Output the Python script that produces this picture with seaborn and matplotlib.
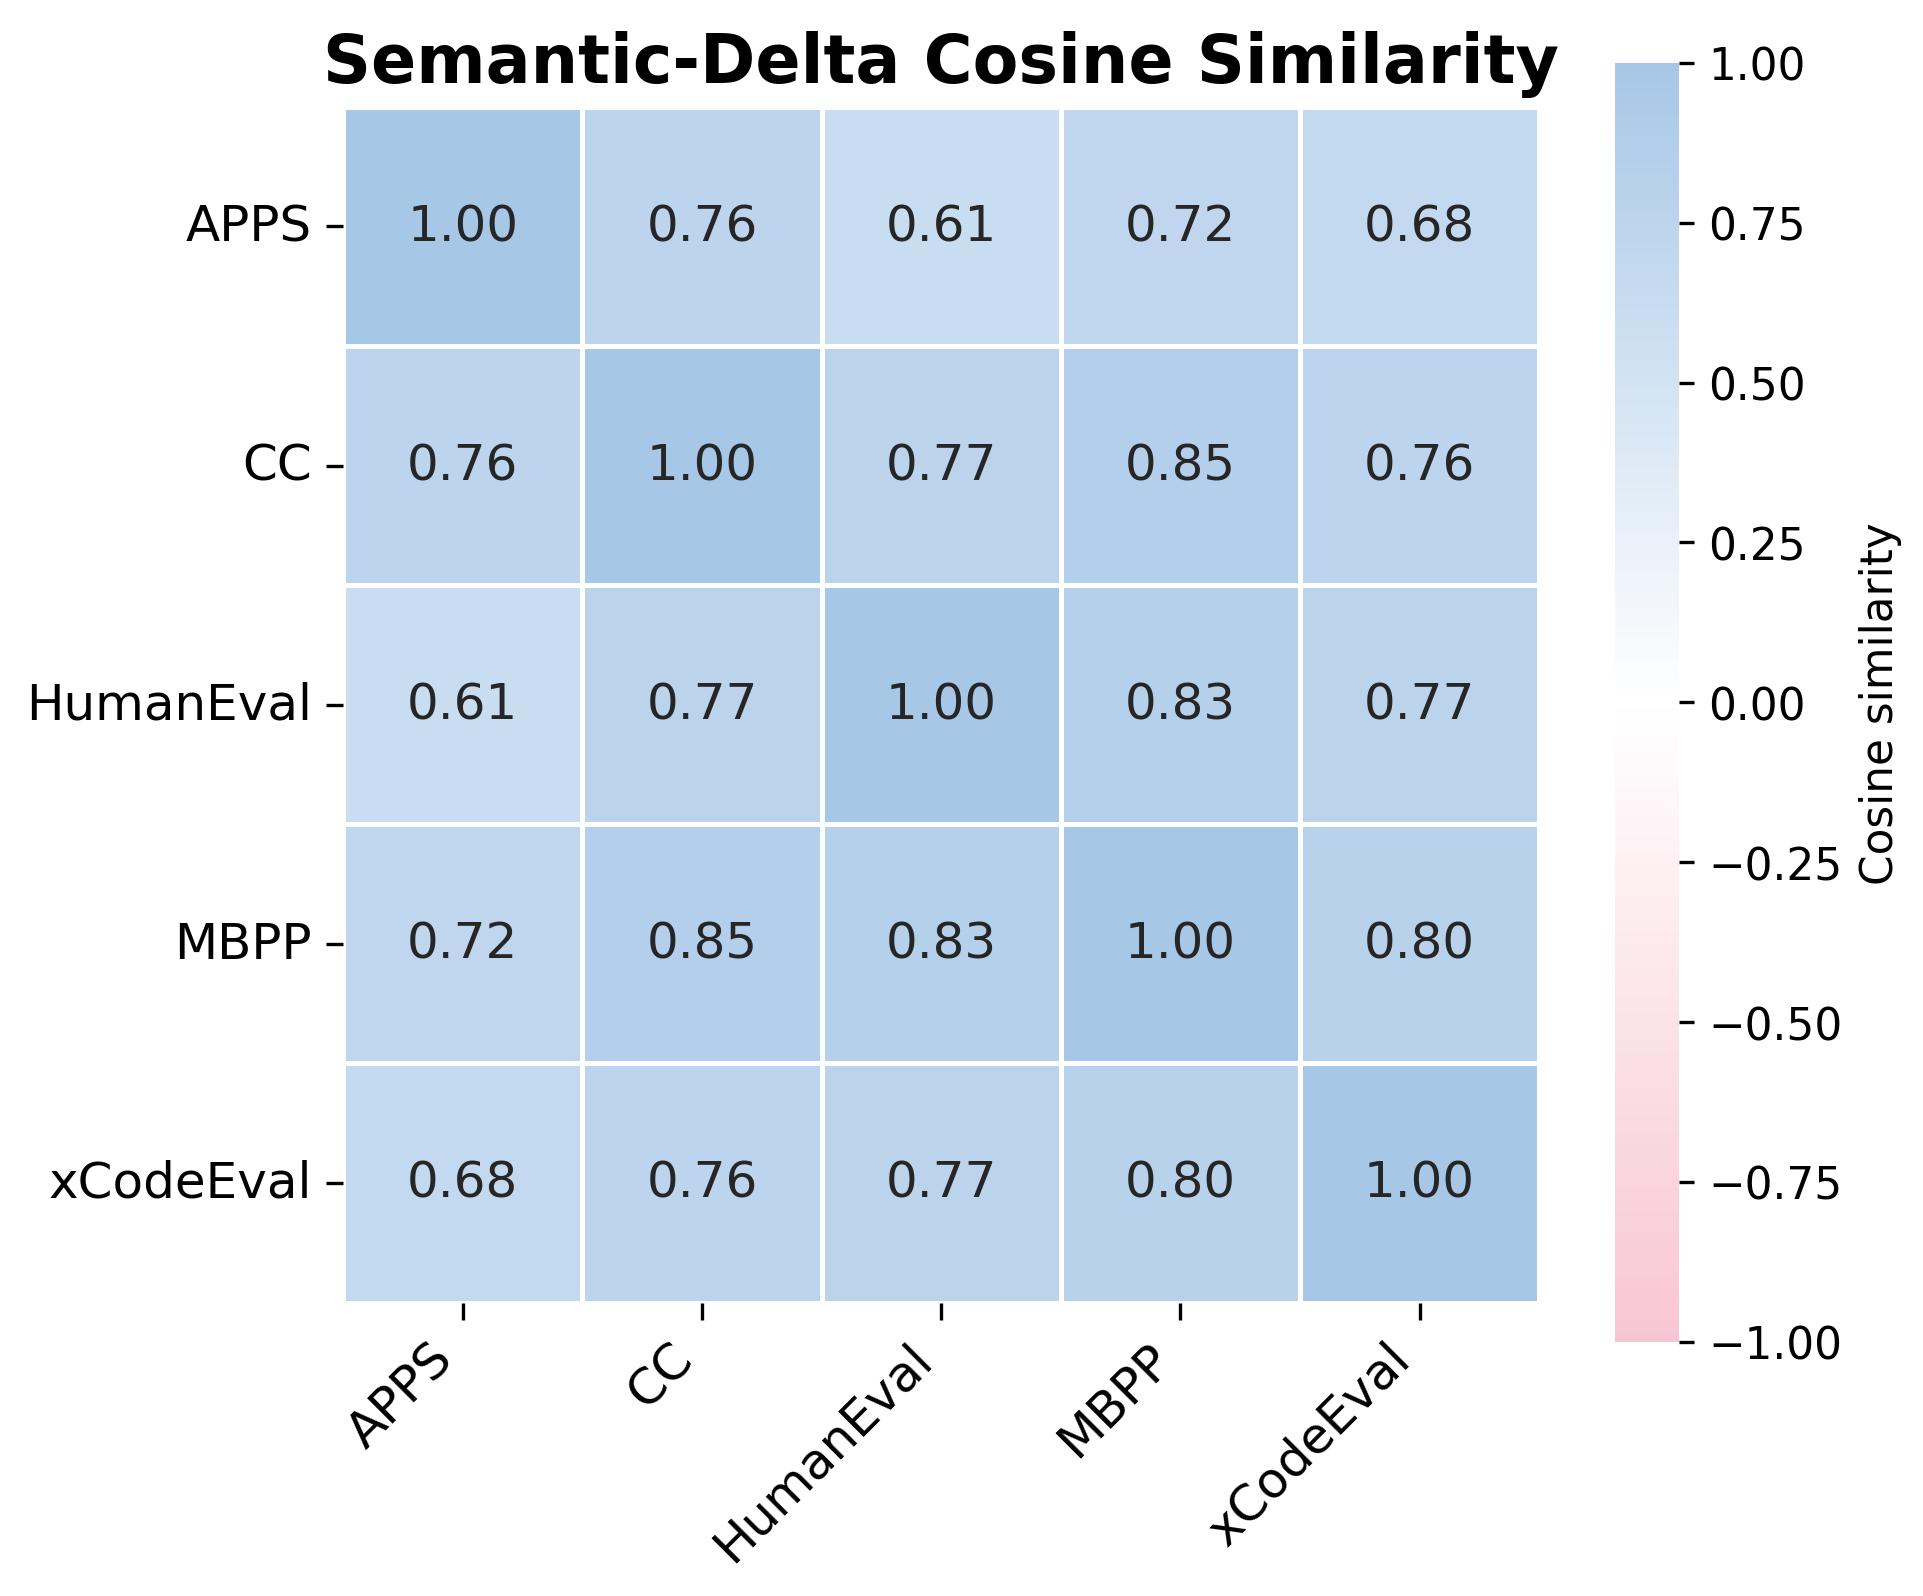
import numpy as np
import pandas as pd
import seaborn as sns
import matplotlib.pyplot as plt
from matplotlib.colors import LinearSegmentedColormap

datasets = ["APPS", "CC", "HumanEval", "MBPP", "xCodeEval"]
row_apps = [1.00, 0.76, 0.61, 0.72, 0.68]
row_cc = [0.76, 1.00, 0.77, 0.85, 0.76]
row_humaneval = [0.61, 0.77, 1.00, 0.83, 0.77]
row_mbpp = [0.72, 0.85, 0.83, 1.00, 0.80]
row_xcodeeval = [0.68, 0.76, 0.77, 0.80, 1.00]
cbar_ticks = [-1.0, -0.75, -0.5, -0.25, 0.0, 0.25, 0.5, 0.75, 1.0]

df = pd.DataFrame([row_apps, row_cc, row_humaneval, row_mbpp, row_xcodeeval],
                  index=datasets, columns=datasets)

# pastel pink -> white -> pastel blue
cmap = LinearSegmentedColormap.from_list("pastel_div", ["#F8C6D3", "#FFFFFF", "#A7C7E7"])

fig = plt.figure(figsize=(6.413, 5.323), dpi=300)
ax = fig.add_axes([0.1784, 0.1829, 0.6216, 0.7505])
cax = fig.add_axes([0.8394, 0.1591, 0.0333, 0.801])

sns.heatmap(df, ax=ax, cbar_ax=cax, cmap=cmap, vmin=-1, vmax=1,
            annot=True, fmt=".2f", annot_kws={"size": 12},
            linewidths=0.8, linecolor="white", square=True,
            cbar_kws={"label": "Cosine similarity", "ticks": cbar_ticks})

ax.set_title("Semantic-Delta Cosine Similarity", fontsize=16, fontweight="bold", pad=6)
ax.set_xticklabels(ax.get_xticklabels(), rotation=45, ha="right", fontsize=12)
ax.set_yticklabels(ax.get_yticklabels(), rotation=0, fontsize=12)
ax.tick_params(axis="both", length=4)
cax.tick_params(labelsize=10.5)
cax.yaxis.label.set_size(10.5)

plt.savefig("out.png", dpi=300)
